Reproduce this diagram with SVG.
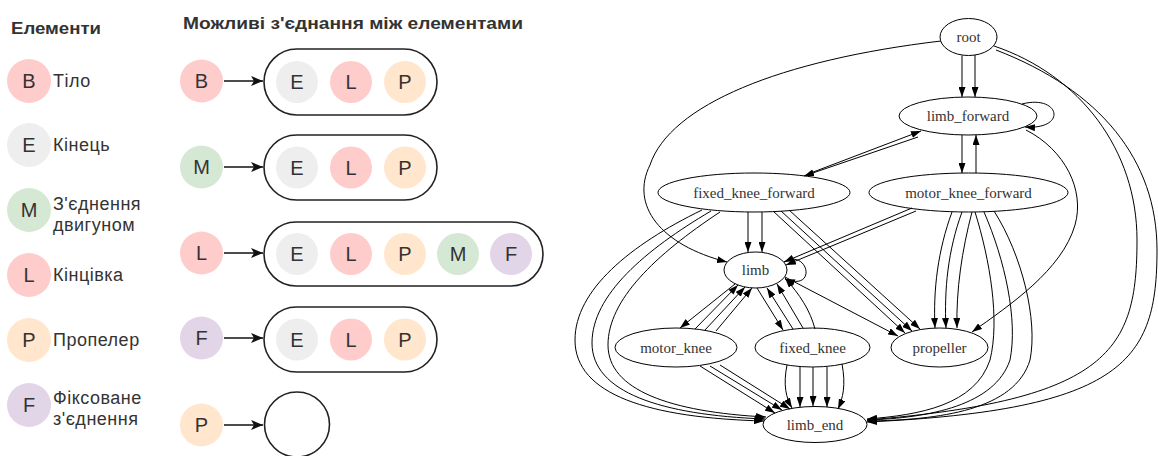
<svg xmlns="http://www.w3.org/2000/svg" width="1158" height="456" viewBox="0 0 1158 456">
<style>
.bg{fill:#ffffff}
.hdr{font-family:"Liberation Sans",Arial,sans-serif;font-size:17px;font-weight:bold;fill:#333333}
.lbl{font-family:"Liberation Sans",Arial,sans-serif;font-size:18px;letter-spacing:0.5px;fill:#333333}
.let{font-family:"Liberation Sans",Arial,sans-serif;font-size:20px;fill:#333333;text-anchor:middle}
.cB{fill:#ffcccc}.cE{fill:#eeeeee}.cM{fill:#d5e8d4}.cP{fill:#ffe6cc}.cF{fill:#e1d5e7}
.pill{fill:none;stroke:#222222;stroke-width:1.6}
.arr{fill:none;stroke:#111111;stroke-width:1.6;marker-end:url(#la)}
.gn{fill:none;stroke:#000000;stroke-width:1}
.gt{font-family:"Liberation Serif","Times New Roman",serif;font-size:15px;fill:#333333;text-anchor:middle}
.ge{fill:none;stroke:#000000;stroke-width:1;marker-end:url(#ga)}
</style>
<defs>
<marker id="ga" viewBox="0 0 10 7" refX="10" refY="3.5" markerWidth="10" markerHeight="7" markerUnits="userSpaceOnUse" orient="auto"><path d="M0,0 L10,3.5 L0,7 z" fill="#000"/></marker>
<marker id="la" viewBox="0 0 12 10" refX="12" refY="5" markerWidth="12" markerHeight="10" markerUnits="userSpaceOnUse" orient="auto"><path d="M0,0 L12,5 L0,10 L3,5 z" fill="#111"/></marker>
</defs>
<rect class="bg" x="0" y="0" width="1158" height="456"/>

<!-- Legend -->
<g id="legend-title"><text class="hdr" x="11" y="34" textLength="90" lengthAdjust="spacingAndGlyphs">Елементи</text></g>
<g id="legend-B"><circle class="cB" cx="29" cy="81" r="22"/><text class="let" x="29" y="88">B</text><text class="lbl" x="53" y="87">Тіло</text></g>
<g id="legend-E"><circle class="cE" cx="29" cy="145" r="22"/><text class="let" x="29" y="152">E</text><text class="lbl" x="53" y="151">Кінець</text></g>
<g id="legend-M"><circle class="cM" cx="29" cy="210" r="22"/><text class="let" x="29" y="217">M</text><text class="lbl" x="53" y="210">З'єднення</text><text class="lbl" x="53" y="231">двигуном</text></g>
<g id="legend-L"><circle class="cB" cx="29" cy="275" r="22"/><text class="let" x="29" y="282">L</text><text class="lbl" x="53" y="281">Кінцівка</text></g>
<g id="legend-P"><circle class="cP" cx="29" cy="340" r="22"/><text class="let" x="29" y="347">P</text><text class="lbl" x="53" y="346">Пропелер</text></g>
<g id="legend-F"><circle class="cF" cx="29" cy="405" r="22"/><text class="let" x="29" y="412">F</text><text class="lbl" x="53" y="404">Фіксоване</text><text class="lbl" x="53" y="425">з'єднення</text></g>

<!-- Possible connections -->
<g id="conn-title"><text class="hdr" x="183" y="29" textLength="340" lengthAdjust="spacingAndGlyphs">Можливі з'єднання між елементами</text></g>
<g id="row-B">
<circle class="cB" cx="201.5" cy="81" r="21.5"/><text class="let" x="201.5" y="88">B</text>
<path class="arr" d="M224,81 L263,81"/>
<rect class="pill" x="264" y="49" width="173" height="66" rx="33"/>
<circle class="cE" cx="297" cy="82" r="21"/><text class="let" x="297" y="89">E</text>
<circle class="cB" cx="351" cy="82" r="21"/><text class="let" x="351" y="89">L</text>
<circle class="cP" cx="405" cy="82" r="21"/><text class="let" x="405" y="89">P</text>
</g>
<g id="row-M">
<circle class="cM" cx="201.5" cy="167" r="21.5"/><text class="let" x="201.5" y="174">M</text>
<path class="arr" d="M224,167 L263,167"/>
<rect class="pill" x="264" y="135" width="173" height="65" rx="32.5"/>
<circle class="cE" cx="297" cy="167.5" r="21"/><text class="let" x="297" y="174.5">E</text>
<circle class="cB" cx="351" cy="167.5" r="21"/><text class="let" x="351" y="174.5">L</text>
<circle class="cP" cx="405" cy="167.5" r="21"/><text class="let" x="405" y="174.5">P</text>
</g>
<g id="row-L">
<circle class="cB" cx="201.5" cy="253" r="21.5"/><text class="let" x="201.5" y="260">L</text>
<path class="arr" d="M224,253 L263,253"/>
<rect class="pill" x="264" y="222" width="279" height="64" rx="32"/>
<circle class="cE" cx="297" cy="254" r="21"/><text class="let" x="297" y="261">E</text>
<circle class="cB" cx="351" cy="254" r="21"/><text class="let" x="351" y="261">L</text>
<circle class="cP" cx="405" cy="254" r="21"/><text class="let" x="405" y="261">P</text>
<circle class="cM" cx="458" cy="254" r="21"/><text class="let" x="458" y="261">M</text>
<circle class="cF" cx="511" cy="254" r="21"/><text class="let" x="511" y="261">F</text>
</g>
<g id="row-F">
<circle class="cF" cx="201.5" cy="338" r="21.5"/><text class="let" x="201.5" y="345">F</text>
<path class="arr" d="M224,338 L263,338"/>
<rect class="pill" x="264" y="307" width="173" height="65" rx="32.5"/>
<circle class="cE" cx="297" cy="339.5" r="21"/><text class="let" x="297" y="346.5">E</text>
<circle class="cB" cx="351" cy="339.5" r="21"/><text class="let" x="351" y="346.5">L</text>
<circle class="cP" cx="405" cy="339.5" r="21"/><text class="let" x="405" y="346.5">P</text>
</g>
<g id="row-P">
<circle class="cP" cx="201.5" cy="425" r="21.5"/><text class="let" x="201.5" y="432">P</text>
<path class="arr" d="M224,425 L263,425"/>
<circle class="pill" cx="297" cy="424.5" r="32.5"/>
</g>

<!-- Graph connectors -->
<g id="edges">
<path class="ge" d="M962,55.5 L962,97"/>
<path class="ge" d="M975,55 L975,97"/>
<path class="ge" d="M1022,104 C1060,94 1068,130 1025,127"/>
<path class="ge" d="M1026,130 C1065,150 1085,190 1075,225 C1062,270 1010,305 972,332"/>
<path class="ge" d="M962,135 L962,173"/>
<path class="ge" d="M976,173 L976,135"/>
<path class="ge" d="M808,174 L921,131"/>
<path class="ge" d="M918,137 L804,176"/>
<path class="ge" d="M941,41 C780,60 670,105 650,165 C630,205 660,245 727,262"/>
<path class="ge" d="M994,46 C1080,75 1137,150 1137,240 C1137,350 1110,400 867,420"/>
<path class="ge" d="M996,50 C1100,90 1157,160 1157,250 C1157,360 1125,410 867,422"/>
<path class="ge" d="M748,212 L748,252"/>
<path class="ge" d="M762,212 L762,252"/>
<path class="ge" d="M773,211 L905,333"/>
<path class="ge" d="M781,211 L912,331"/>
<path class="ge" d="M789,210 L920,329"/>
<path class="ge" d="M785,277 L898,336"/>
<path class="ge" d="M702,210 C630,245 575,290 575,340 C575,395 650,418 764,421"/>
<path class="ge" d="M711,211 C645,250 592,295 592,343 C592,392 660,415 765,419"/>
<path class="ge" d="M720,212 C655,255 608,300 608,345 C608,390 670,412 766,417"/>
<path class="ge" d="M912,208 L784,262"/>
<path class="ge" d="M916,211 L786,265"/>
<path class="ge" d="M952,212 C938,250 933,290 935,328"/>
<path class="ge" d="M962,212 C948,250 944,290 946,328"/>
<path class="ge" d="M972,212 C962,250 956,290 957,328"/>
<path class="ge" d="M975,212 C990,260 1000,320 990,360 C975,405 920,415 867,419"/>
<path class="ge" d="M984,212 C1005,260 1018,320 1010,360 C995,405 930,418 867,420"/>
<path class="ge" d="M994,211 C1022,255 1038,320 1030,360 C1015,410 940,420 867,421"/>
<path class="ge" d="M784,262 C808,248 818,292 785,279"/>
<path class="ge" d="M735,284 L680,328"/>
<path class="ge" d="M695,329 L738,285"/>
<path class="ge" d="M705,330 L745,287"/>
<path class="ge" d="M716,331 L752,288"/>
<path class="ge" d="M757,288 L783,330"/>
<path class="ge" d="M793,329 L767,288"/>
<path class="ge" d="M803,328 L777,284"/>
<path class="ge" d="M815,329 C810,310 800,295 785,278"/>
<path class="ge" d="M700,366 L775,413"/>
<path class="ge" d="M710,366 L782,410"/>
<path class="ge" d="M720,365 L790,409"/>
<path class="ge" d="M787,365 C783,385 786,398 792,408"/>
<path class="ge" d="M800,367 L800,407"/>
<path class="ge" d="M813,367 L813,406"/>
<path class="ge" d="M827,367 L827,407"/>
<path class="ge" d="M842,364 C846,385 843,398 838,409"/>
</g>

<!-- Graph nodes -->
<g id="root"><ellipse class="gn" cx="968.5" cy="37" rx="28.5" ry="18.5"/><text class="gt" x="968.5" y="42">root</text></g>
<g id="limb_forward"><ellipse class="gn" cx="968" cy="116" rx="69" ry="19"/><text class="gt" x="968" y="121">limb_forward</text></g>
<g id="fixed_knee_forward"><ellipse class="gn" cx="754" cy="192.5" rx="96" ry="19.5"/><text class="gt" x="754" y="197.5">fixed_knee_forward</text></g>
<g id="motor_knee_forward"><ellipse class="gn" cx="968.5" cy="192.5" rx="99.5" ry="19.5"/><text class="gt" x="968.5" y="197.5">motor_knee_forward</text></g>
<g id="limb"><ellipse class="gn" cx="755.5" cy="270" rx="31.5" ry="18"/><text class="gt" x="755.5" y="275">limb</text></g>
<g id="motor_knee"><ellipse class="gn" cx="676" cy="347.5" rx="61" ry="19.5"/><text class="gt" x="676" y="352.5">motor_knee</text></g>
<g id="fixed_knee"><ellipse class="gn" cx="812.5" cy="347.5" rx="57.5" ry="19.5"/><text class="gt" x="812.5" y="352.5">fixed_knee</text></g>
<g id="propeller"><ellipse class="gn" cx="939.5" cy="347.5" rx="48.5" ry="19.5"/><text class="gt" x="939.5" y="352.5">propeller</text></g>
<g id="limb_end"><ellipse class="gn" cx="815" cy="424.5" rx="52" ry="18"/><text class="gt" x="815" y="429.5">limb_end</text></g>
</svg>
